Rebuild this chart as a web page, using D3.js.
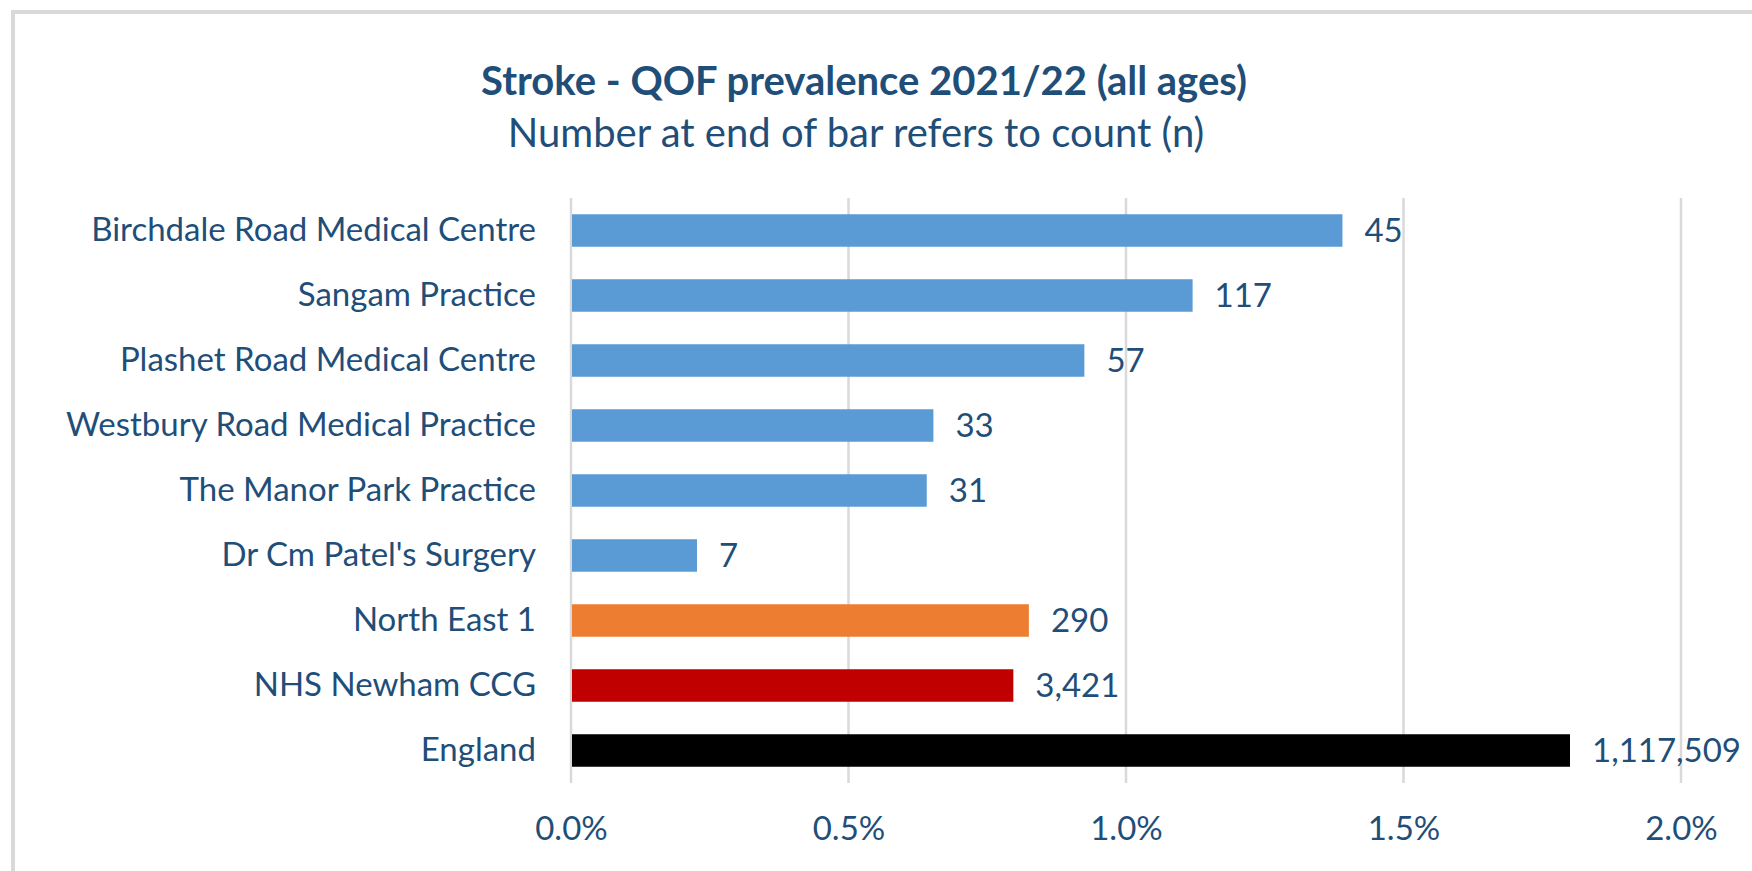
<!DOCTYPE html>
<html>
<head>
<meta charset="utf-8">
<script src="https://cdn.jsdelivr.net/npm/d3@7"></script>
<style>
  body { margin: 0; background: #fff; }
  text { font-family: Lato, "Open Sans", sans-serif; }
</style>
</head>
<body>
<div id="chart-container"></div>
<script>
const categories = [
  "Birchdale Road Medical Centre",
  "Sangam Practice",
  "Plashet Road Medical Centre",
  "Westbury Road Medical Practice",
  "The Manor Park Practice",
  "Dr Cm Patel's Surgery",
  "North East 1",
  "NHS Newham CCG",
  "England"
];
const prevalence = [1.39, 1.12, 0.925, 0.653, 0.641, 0.227, 0.825, 0.797, 1.8];
const counts = ["45", "117", "57", "33", "31", "7", "290", "3,421", "1,117,509"];
const barColors = ["#5b9bd5", "#5b9bd5", "#5b9bd5", "#5b9bd5", "#5b9bd5", "#5b9bd5", "#ed7d31", "#c00000", "#000000"];
const xTicks = [0, 0.5, 1.0, 1.5, 2.0];

const W = 1752, H = 871;
const margin = { top: 198, right: 71, bottom: 88, left: 571 };
const width = W - margin.left - margin.right;
const height = H - margin.top - margin.bottom;
const textColor = "#1f4e79";

const root = d3.select("#chart-container")
  .append("svg")
  .attr("width", W)
  .attr("height", H);

// chart area border (only top and left visible in the crop)
root.append("rect")
  .attr("x", 13).attr("y", 12)
  .attr("width", W + 20).attr("height", H + 20)
  .attr("fill", "none")
  .attr("stroke", "#d9d9d9")
  .attr("stroke-width", 4);

root.append("text")
  .attr("x", 864).attr("y", 95)
  .attr("text-anchor", "middle")
  .style("font-size", "40px")
  .style("font-weight", "bold")
  .style("fill", textColor)
  .text("Stroke - QOF prevalence 2021/22 (all ages)");

root.append("text")
  .attr("x", 856).attr("y", 147)
  .attr("text-anchor", "middle")
  .style("font-size", "40px")
  .style("fill", textColor)
  .text("Number at end of bar refers to count (n)");

const svg = root.append("g")
  .attr("transform", `translate(${margin.left},${margin.top})`);

const x = d3.scaleLinear()
  .domain([0, 2])
  .range([0, width]);

const y = d3.scaleBand()
  .domain(categories)
  .range([0, height])
  .paddingInner(0.5)
  .paddingOuter(0.25);

// gridlines
svg.selectAll(".grid")
  .data(xTicks)
  .join("line")
  .attr("class", "grid")
  .attr("x1", d => x(d)).attr("x2", d => x(d))
  .attr("y1", 0).attr("y2", height)
  .attr("stroke", "#d9d9d9")
  .attr("stroke-width", 2.5);

// x axis labels
const xAxis = svg.append("g")
  .attr("transform", `translate(0,${height})`)
  .call(d3.axisBottom(x).tickValues(xTicks).tickFormat(d => d.toFixed(1) + "%").tickSize(0).tickPadding(0));
xAxis.select(".domain").remove();
xAxis.selectAll("text")
  .attr("y", 57)
  .attr("dy", 0)
  .style("font-size", "33px")
  .style("font-family", "Lato, sans-serif")
  .attr("fill", textColor);

// bars
svg.selectAll(".bar")
  .data(categories)
  .join("rect")
  .attr("class", "bar")
  .attr("x", x(0) + 1)
  .attr("y", d => y(d))
  .attr("width", (d, i) => x(prevalence[i]) - x(0) - 1)
  .attr("height", y.bandwidth())
  .attr("fill", (d, i) => barColors[i]);

// y axis labels
const yAxis = svg.append("g")
  .call(d3.axisLeft(y).tickSize(0).tickPadding(35));
yAxis.select(".domain").remove();
yAxis.selectAll("text")
  .style("font-size", "33px")
  .style("font-family", "Lato, sans-serif")
  .attr("fill", textColor);

// value labels
svg.selectAll(".value")
  .data(categories)
  .join("text")
  .attr("class", "value")
  .attr("x", (d, i) => x(prevalence[i]) + 22)
  .attr("y", d => y(d) + y.bandwidth() / 2)
  .attr("dy", "0.35em")
  .style("font-size", "33px")
  .style("fill", textColor)
  .text((d, i) => counts[i]);
</script>
</body>
</html>
